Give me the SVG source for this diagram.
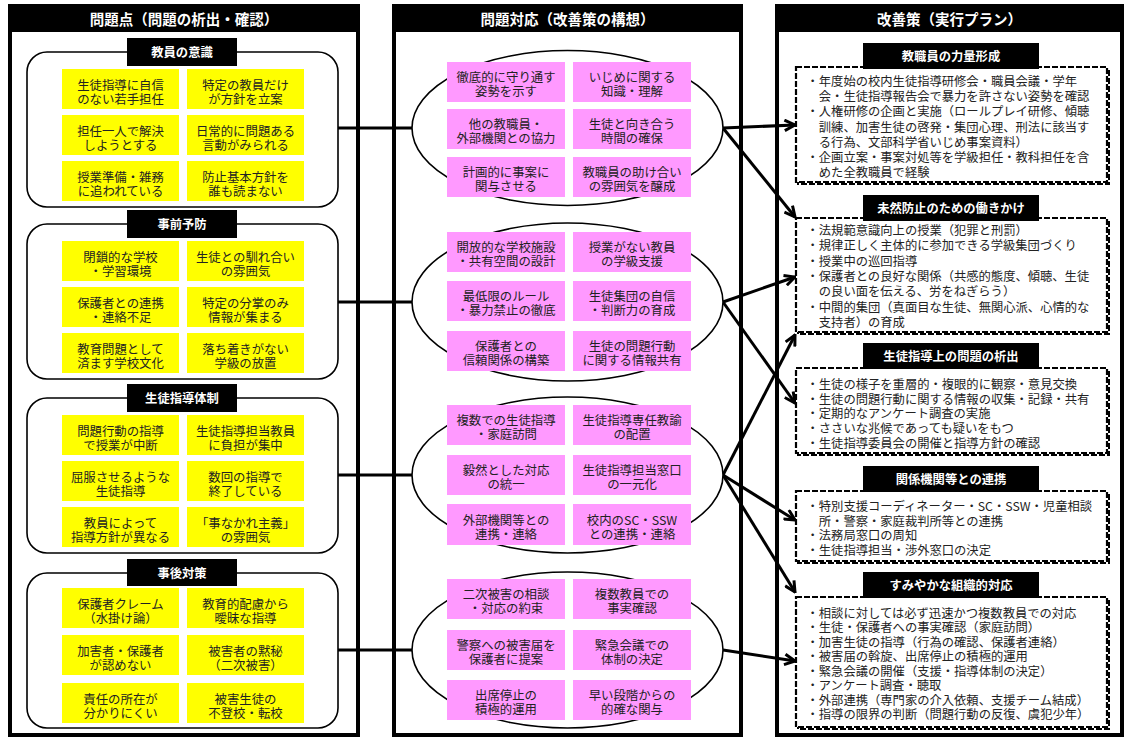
<svg xmlns="http://www.w3.org/2000/svg" width="1126" height="739" viewBox="0 0 1126 739">
<style>
.outer{fill:#fff;stroke:#000;stroke-width:4}
.hdr{fill:#000}
.ht{font-family:"Noto Sans CJK JP","Noto Sans CJK SC",sans-serif;font-weight:bold;font-size:14.5px;fill:#fff;text-anchor:middle;dominant-baseline:central}
.lb{fill:#000}
.lt{font-family:"Noto Sans CJK JP","Noto Sans CJK SC",sans-serif;font-weight:bold;font-size:12.3px;fill:#fff;text-anchor:middle;dominant-baseline:central}
.rr{fill:#fff;stroke:#000;stroke-width:1.6}
.el{fill:#fff;stroke:#000;stroke-width:1.6}
.yb{fill:#ffff00}
.pb{fill:#ff99ff}
.bt{font-family:"Noto Sans CJK JP","Noto Sans CJK SC",sans-serif;font-size:12.4px;fill:#222;text-anchor:middle;dominant-baseline:central}
.db{fill:#fff;stroke:#000;stroke-width:2.2;stroke-dasharray:6 2}
.ds{fill:none;stroke:#000;stroke-width:2;stroke-dasharray:6 2}
.rt{font-family:"Noto Sans CJK JP","Noto Sans CJK SC",sans-serif;font-size:12.3px;fill:#222;dominant-baseline:central}
.con{stroke:#000;stroke-width:3;fill:none}
.arr{stroke:#000;stroke-width:3;fill:none;marker-end:url(#ah)}
</style>
<defs>
<marker id="ah" markerUnits="userSpaceOnUse" viewBox="0 0 10 10" markerWidth="13" markerHeight="13" refX="9" refY="5" orient="auto">
<path d="M1,1 L9,5 L1,9" fill="none" stroke="#000" stroke-width="2.3"/>
</marker>
</defs>
<rect width="1126" height="739" fill="#fff"/>

<!-- column frames -->
<g id="col-left">
<rect class="outer" x="10" y="6" width="348" height="729"/>
<rect class="hdr" x="8" y="4" width="352" height="28"/>
<text class="ht" x="184" y="18.5">問題点（問題の析出・確認）</text>
</g>
<g id="col-mid">
<rect class="outer" x="394" y="6" width="347" height="729"/>
<rect class="hdr" x="392" y="4" width="351" height="28"/>
<text class="ht" x="567.5" y="18.5">問題対応（改善策の構想）</text>
</g>
<g id="col-right">
<rect class="outer" x="777" y="6" width="345" height="729"/>
<rect class="hdr" x="775" y="4" width="349" height="28"/>
<text class="ht" x="949.5" y="18.5">改善策（実行プラン）</text>
</g>

<!-- connectors -->
<g id="connectors">
<line class="con" x1="337" y1="128" x2="412" y2="128"/>
<line class="con" x1="337" y1="302" x2="412" y2="302"/>
<line class="con" x1="337" y1="475" x2="412" y2="475"/>
<line class="con" x1="337" y1="650" x2="412" y2="650"/>
<line class="arr" x1="723" y1="128" x2="795" y2="125"/>
<line class="arr" x1="723" y1="128" x2="795" y2="217"/>
<line class="arr" x1="723" y1="302" x2="795" y2="277"/>
<line class="arr" x1="723" y1="302" x2="795" y2="403"/>
<line class="arr" x1="723" y1="475" x2="795" y2="335"/>
<line class="arr" x1="723" y1="475" x2="795" y2="520"/>
<line class="arr" x1="723" y1="475" x2="795" y2="592"/>
<line class="arr" x1="723" y1="650" x2="795" y2="661"/>
</g>

<!-- left groups -->
<g id="grp-kyoin">
<rect class="rr" x="27" y="52" width="311" height="155" rx="20"/>
<rect class="lb" x="127" y="38" width="110" height="28"/>
<text class="lt" x="182" y="52">教員の意識</text>
<g id="l1a"><rect class="yb" x="62" y="69" width="117" height="40"/><text class="bt" x="120.5" y="84.5"><tspan x="120.5">生徒指導に自信</tspan><tspan x="120.5" dy="14">のない若手担任</tspan></text></g>
<g id="l1b"><rect class="yb" x="187" y="69" width="117" height="40"/><text class="bt" x="245.5" y="84.5"><tspan x="245.5">特定の教員だけ</tspan><tspan x="245.5" dy="14">が方針を立案</tspan></text></g>
<g id="l1c"><rect class="yb" x="62" y="115" width="117" height="40"/><text class="bt" x="120.5" y="130.5"><tspan x="120.5">担任一人で解決</tspan><tspan x="120.5" dy="14">しようとする</tspan></text></g>
<g id="l1d"><rect class="yb" x="187" y="115" width="117" height="40"/><text class="bt" x="245.5" y="130.5"><tspan x="245.5">日常的に問題ある</tspan><tspan x="245.5" dy="14">言動がみられる</tspan></text></g>
<g id="l1e"><rect class="yb" x="62" y="161" width="117" height="40"/><text class="bt" x="120.5" y="176.5"><tspan x="120.5">授業準備・雑務</tspan><tspan x="120.5" dy="14">に追われている</tspan></text></g>
<g id="l1f"><rect class="yb" x="187" y="161" width="117" height="40"/><text class="bt" x="245.5" y="176.5"><tspan x="245.5">防止基本方針を</tspan><tspan x="245.5" dy="14">誰も読まない</tspan></text></g>
</g>

<g id="grp-jizen">
<rect class="rr" x="27" y="224" width="311" height="155" rx="20"/>
<rect class="lb" x="127" y="210" width="110" height="28"/>
<text class="lt" x="182" y="224">事前予防</text>
<g id="l2a"><rect class="yb" x="62" y="241" width="117" height="40"/><text class="bt" x="120.5" y="256.5"><tspan x="120.5">閉鎖的な学校</tspan><tspan x="120.5" dy="14">・学習環境</tspan></text></g>
<g id="l2b"><rect class="yb" x="187" y="241" width="117" height="40"/><text class="bt" x="245.5" y="256.5"><tspan x="245.5">生徒との馴れ合い</tspan><tspan x="245.5" dy="14">の雰囲気</tspan></text></g>
<g id="l2c"><rect class="yb" x="62" y="287" width="117" height="40"/><text class="bt" x="120.5" y="302.5"><tspan x="120.5">保護者との連携</tspan><tspan x="120.5" dy="14">・連絡不足</tspan></text></g>
<g id="l2d"><rect class="yb" x="187" y="287" width="117" height="40"/><text class="bt" x="245.5" y="302.5"><tspan x="245.5">特定の分掌のみ</tspan><tspan x="245.5" dy="14">情報が集まる</tspan></text></g>
<g id="l2e"><rect class="yb" x="62" y="333" width="117" height="40"/><text class="bt" x="120.5" y="348.5"><tspan x="120.5">教育問題として</tspan><tspan x="120.5" dy="14">済ます学校文化</tspan></text></g>
<g id="l2f"><rect class="yb" x="187" y="333" width="117" height="40"/><text class="bt" x="245.5" y="348.5"><tspan x="245.5">落ち着きがない</tspan><tspan x="245.5" dy="14">学級の放置</tspan></text></g>
</g>

<g id="grp-taisei">
<rect class="rr" x="27" y="398" width="311" height="155" rx="20"/>
<rect class="lb" x="127" y="384" width="110" height="28"/>
<text class="lt" x="182" y="398">生徒指導体制</text>
<g id="l3a"><rect class="yb" x="62" y="415" width="117" height="40"/><text class="bt" x="120.5" y="430.5"><tspan x="120.5">問題行動の指導</tspan><tspan x="120.5" dy="14">で授業が中断</tspan></text></g>
<g id="l3b"><rect class="yb" x="187" y="415" width="117" height="40"/><text class="bt" x="245.5" y="430.5"><tspan x="245.5">生徒指導担当教員</tspan><tspan x="245.5" dy="14">に負担が集中</tspan></text></g>
<g id="l3c"><rect class="yb" x="62" y="461" width="117" height="40"/><text class="bt" x="120.5" y="476.5"><tspan x="120.5">屈服させるような</tspan><tspan x="120.5" dy="14">生徒指導</tspan></text></g>
<g id="l3d"><rect class="yb" x="187" y="461" width="117" height="40"/><text class="bt" x="245.5" y="476.5"><tspan x="245.5">数回の指導で</tspan><tspan x="245.5" dy="14">終了している</tspan></text></g>
<g id="l3e"><rect class="yb" x="62" y="507" width="117" height="40"/><text class="bt" x="120.5" y="522.5"><tspan x="120.5">教員によって</tspan><tspan x="120.5" dy="14">指導方針が異なる</tspan></text></g>
<g id="l3f"><rect class="yb" x="187" y="507" width="117" height="40"/><text class="bt" x="245.5" y="522.5"><tspan x="245.5">「事なかれ主義」</tspan><tspan x="245.5" dy="14">の雰囲気</tspan></text></g>
</g>

<g id="grp-jigo">
<rect class="rr" x="27" y="573" width="311" height="155" rx="20"/>
<rect class="lb" x="127" y="559" width="110" height="27"/>
<text class="lt" x="182" y="572.5">事後対策</text>
<g id="l4a"><rect class="yb" x="62" y="588" width="117" height="40"/><text class="bt" x="120.5" y="603.5"><tspan x="120.5">保護者クレーム</tspan><tspan x="120.5" dy="14">（水掛け論）</tspan></text></g>
<g id="l4b"><rect class="yb" x="187" y="588" width="117" height="40"/><text class="bt" x="245.5" y="603.5"><tspan x="245.5">教育的配慮から</tspan><tspan x="245.5" dy="14">曖昧な指導</tspan></text></g>
<g id="l4c"><rect class="yb" x="62" y="635" width="117" height="40"/><text class="bt" x="120.5" y="650.5"><tspan x="120.5">加害者・保護者</tspan><tspan x="120.5" dy="14">が認めない</tspan></text></g>
<g id="l4d"><rect class="yb" x="187" y="635" width="117" height="40"/><text class="bt" x="245.5" y="650.5"><tspan x="245.5">被害者の黙秘</tspan><tspan x="245.5" dy="14">（二次被害）</tspan></text></g>
<g id="l4e"><rect class="yb" x="62" y="683" width="117" height="40"/><text class="bt" x="120.5" y="698.5"><tspan x="120.5">責任の所在が</tspan><tspan x="120.5" dy="14">分かりにくい</tspan></text></g>
<g id="l4f"><rect class="yb" x="187" y="683" width="117" height="40"/><text class="bt" x="245.5" y="698.5"><tspan x="245.5">被害生徒の</tspan><tspan x="245.5" dy="14">不登校・転校</tspan></text></g>
</g>

<!-- middle ellipses -->
<g id="ell-1">
<ellipse class="el" cx="567.5" cy="128" rx="155.5" ry="77.5"/>
<g id="m1a"><rect class="pb" x="447" y="62" width="118" height="40"/><text class="bt" x="506" y="77"><tspan x="506">徹底的に守り通す</tspan><tspan x="506" dy="14">姿勢を示す</tspan></text></g>
<g id="m1b"><rect class="pb" x="573" y="62" width="118" height="40"/><text class="bt" x="632" y="77"><tspan x="632">いじめに関する</tspan><tspan x="632" dy="14">知識・理解</tspan></text></g>
<g id="m1c"><rect class="pb" x="447" y="109" width="118" height="40"/><text class="bt" x="506" y="124"><tspan x="506">他の教職員・</tspan><tspan x="506" dy="14">外部機関との協力</tspan></text></g>
<g id="m1d"><rect class="pb" x="573" y="109" width="118" height="40"/><text class="bt" x="632" y="124"><tspan x="632">生徒と向き合う</tspan><tspan x="632" dy="14">時間の確保</tspan></text></g>
<g id="m1e"><rect class="pb" x="447" y="157" width="118" height="40"/><text class="bt" x="506" y="172"><tspan x="506">計画的に事案に</tspan><tspan x="506" dy="14">関与させる</tspan></text></g>
<g id="m1f"><rect class="pb" x="573" y="157" width="118" height="40"/><text class="bt" x="632" y="172"><tspan x="632">教職員の助け合い</tspan><tspan x="632" dy="14">の雰囲気を醸成</tspan></text></g>
</g>

<g id="ell-2">
<ellipse class="el" cx="567.5" cy="302" rx="155.5" ry="79"/>
<g id="m2a"><rect class="pb" x="447" y="232" width="118" height="40"/><text class="bt" x="506" y="247"><tspan x="506">開放的な学校施設</tspan><tspan x="506" dy="14">・共有空間の設計</tspan></text></g>
<g id="m2b"><rect class="pb" x="573" y="232" width="118" height="40"/><text class="bt" x="632" y="247"><tspan x="632">授業がない教員</tspan><tspan x="632" dy="14">の学級支援</tspan></text></g>
<g id="m2c"><rect class="pb" x="447" y="281" width="118" height="40"/><text class="bt" x="506" y="296"><tspan x="506">最低限のルール</tspan><tspan x="506" dy="14">・暴力禁止の徹底</tspan></text></g>
<g id="m2d"><rect class="pb" x="573" y="281" width="118" height="40"/><text class="bt" x="632" y="296"><tspan x="632">生徒集団の自信</tspan><tspan x="632" dy="14">・判断力の育成</tspan></text></g>
<g id="m2e"><rect class="pb" x="447" y="331" width="118" height="40"/><text class="bt" x="506" y="346"><tspan x="506">保護者との</tspan><tspan x="506" dy="14">信頼関係の構築</tspan></text></g>
<g id="m2f"><rect class="pb" x="573" y="331" width="118" height="40"/><text class="bt" x="632" y="346"><tspan x="632">生徒の問題行動</tspan><tspan x="632" dy="14">に関する情報共有</tspan></text></g>
</g>

<g id="ell-3">
<ellipse class="el" cx="567.5" cy="475" rx="155.5" ry="78"/>
<g id="m3a"><rect class="pb" x="447" y="405" width="118" height="40"/><text class="bt" x="506" y="420"><tspan x="506">複数での生徒指導</tspan><tspan x="506" dy="14">・家庭訪問</tspan></text></g>
<g id="m3b"><rect class="pb" x="573" y="405" width="118" height="40"/><text class="bt" x="632" y="420"><tspan x="632">生徒指導専任教諭</tspan><tspan x="632" dy="14">の配置</tspan></text></g>
<g id="m3c"><rect class="pb" x="447" y="455" width="118" height="40"/><text class="bt" x="506" y="470"><tspan x="506">毅然とした対応</tspan><tspan x="506" dy="14">の統一</tspan></text></g>
<g id="m3d"><rect class="pb" x="573" y="455" width="118" height="40"/><text class="bt" x="632" y="470"><tspan x="632">生徒指導担当窓口</tspan><tspan x="632" dy="14">の一元化</tspan></text></g>
<g id="m3e"><rect class="pb" x="447" y="504" width="118" height="41"/><text class="bt" x="506" y="519.5"><tspan x="506">外部機関等との</tspan><tspan x="506" dy="14">連携・連絡</tspan></text></g>
<g id="m3f"><rect class="pb" x="573" y="504" width="118" height="41"/><text class="bt" x="632" y="519.5"><tspan x="632">校内のSC・SSW</tspan><tspan x="632" dy="14">との連携・連絡</tspan></text></g>
</g>

<g id="ell-4">
<ellipse class="el" cx="567.5" cy="650" rx="155.5" ry="78"/>
<g id="m4a"><rect class="pb" x="447" y="579" width="118" height="40"/><text class="bt" x="506" y="594"><tspan x="506">二次被害の相談</tspan><tspan x="506" dy="14">・対応の約束</tspan></text></g>
<g id="m4b"><rect class="pb" x="573" y="579" width="118" height="40"/><text class="bt" x="632" y="594"><tspan x="632">複数教員での</tspan><tspan x="632" dy="14">事実確認</tspan></text></g>
<g id="m4c"><rect class="pb" x="447" y="630" width="118" height="40"/><text class="bt" x="506" y="645"><tspan x="506">警察への被害届を</tspan><tspan x="506" dy="14">保護者に提案</tspan></text></g>
<g id="m4d"><rect class="pb" x="573" y="630" width="118" height="40"/><text class="bt" x="632" y="645"><tspan x="632">緊急会議での</tspan><tspan x="632" dy="14">体制の決定</tspan></text></g>
<g id="m4e"><rect class="pb" x="447" y="680" width="118" height="40"/><text class="bt" x="506" y="695"><tspan x="506">出席停止の</tspan><tspan x="506" dy="14">積極的運用</tspan></text></g>
<g id="m4f"><rect class="pb" x="573" y="680" width="118" height="40"/><text class="bt" x="632" y="695"><tspan x="632">早い段階からの</tspan><tspan x="632" dy="14">的確な関与</tspan></text></g>
</g>

<!-- right plans -->
<g id="plan-1">
<rect class="ds" x="798" y="69" width="311" height="115"/>
<rect class="db" x="796" y="67" width="311" height="115"/>
<rect class="lb" x="863" y="43" width="176" height="26"/>
<text class="lt" x="951" y="56">教職員の力量形成</text>
<text class="rt" x="806.5" y="81">・年度始の校内生徒指導研修会・職員会議・学年</text>
<text class="rt" x="818.8" y="96.2">会・生徒指導報告会で暴力を許さない姿勢を確認</text>
<text class="rt" x="806.5" y="111.4">・人権研修の企画と実施（ロールプレイ研修、傾聴</text>
<text class="rt" x="818.8" y="126.6">訓練、加害生徒の啓発・集団心理、刑法に該当す</text>
<text class="rt" x="818.8" y="141.8">る行為、文部科学省いじめ事案資料）</text>
<text class="rt" x="806.5" y="157">・企画立案・事案対処等を学級担任・教科担任を含</text>
<text class="rt" x="818.8" y="172.2">めた全教職員で経験</text>
</g>

<g id="plan-2">
<rect class="ds" x="798" y="220" width="311" height="114"/>
<rect class="db" x="796" y="218" width="311" height="114"/>
<rect class="lb" x="863" y="195" width="176" height="26"/>
<text class="lt" x="951" y="208">未然防止のための働きかけ</text>
<text class="rt" x="806.5" y="230">・法規範意識向上の授業（犯罪と刑罰）</text>
<text class="rt" x="806.5" y="245.3">・規律正しく主体的に参加できる学級集団づくり</text>
<text class="rt" x="806.5" y="260.6">・授業中の巡回指導</text>
<text class="rt" x="806.5" y="275.9">・保護者との良好な関係（共感的態度、傾聴、生徒</text>
<text class="rt" x="818.8" y="291.2">の良い面を伝える、労をねぎらう）</text>
<text class="rt" x="806.5" y="306.5">・中間的集団（真面目な生徒、無関心派、心情的な</text>
<text class="rt" x="818.8" y="321.8">支持者）の育成</text>
</g>

<g id="plan-3">
<rect class="ds" x="798" y="370" width="311" height="85"/>
<rect class="db" x="796" y="368" width="311" height="85"/>
<rect class="lb" x="863" y="343" width="176" height="26"/>
<text class="lt" x="951" y="356">生徒指導上の問題の析出</text>
<text class="rt" x="806.5" y="384">・生徒の様子を重層的・複眼的に観察・意見交換</text>
<text class="rt" x="806.5" y="398.7">・生徒の問題行動に関する情報の収集・記録・共有</text>
<text class="rt" x="806.5" y="413.4">・定期的なアンケート調査の実施</text>
<text class="rt" x="806.5" y="428.1">・ささいな兆候であっても疑いをもつ</text>
<text class="rt" x="806.5" y="442.8">・生徒指導委員会の開催と指導方針の確認</text>
</g>

<g id="plan-4">
<rect class="ds" x="798" y="493" width="311" height="70"/>
<rect class="db" x="796" y="491" width="311" height="70"/>
<rect class="lb" x="863" y="466" width="176" height="26"/>
<text class="lt" x="951" y="479">関係機関等との連携</text>
<text class="rt" x="806.5" y="506">・特別支援コーディネーター・SC・SSW・児童相談</text>
<text class="rt" x="818.8" y="520.7">所・警察・家庭裁判所等との連携</text>
<text class="rt" x="806.5" y="535.4">・法務局窓口の周知</text>
<text class="rt" x="806.5" y="550.1">・生徒指導担当・渉外窓口の決定</text>
</g>

<g id="plan-5">
<rect class="ds" x="798" y="599" width="311" height="130"/>
<rect class="db" x="796" y="597" width="311" height="130"/>
<rect class="lb" x="863" y="572" width="176" height="26"/>
<text class="lt" x="951" y="585">すみやかな組織的対応</text>
<text class="rt" x="806.5" y="613">・相談に対しては必ず迅速かつ複数教員での対応</text>
<text class="rt" x="806.5" y="627.45">・生徒・保護者への事実確認（家庭訪問）</text>
<text class="rt" x="806.5" y="641.9">・加害生徒の指導（行為の確認、保護者連絡）</text>
<text class="rt" x="806.5" y="656.35">・被害届の斡旋、出席停止の積極的運用</text>
<text class="rt" x="806.5" y="670.8">・緊急会議の開催（支援・指導体制の決定）</text>
<text class="rt" x="806.5" y="685.25">・アンケート調査・聴取</text>
<text class="rt" x="806.5" y="699.7">・外部連携（専門家の介入依頼、支援チーム結成）</text>
<text class="rt" x="806.5" y="714.15">・指導の限界の判断（問題行動の反復、虞犯少年）</text>
</g>
</svg>
